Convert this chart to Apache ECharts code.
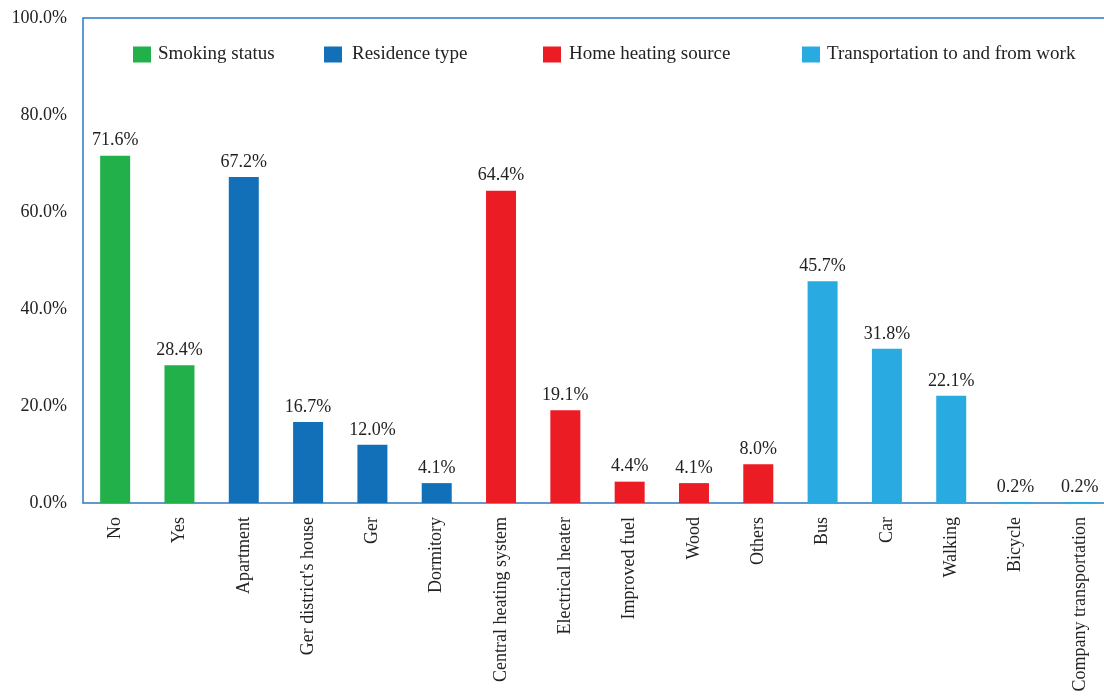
<!DOCTYPE html>
<html>
<head>
<meta charset="utf-8">
<script src="https://cdn.jsdelivr.net/npm/echarts@6/dist/echarts.min.js"></script>
<style>
  html, body { margin: 0; padding: 0; background: #fff; overflow: hidden; }
  /* the frame continues past the right edge of the window */
  #chart { width: 1130px; height: 696px; }
</style>
</head>
<body>
<div id="chart"></div>
<script>
// Categories along the x axis, grouped by survey question
const categories = [
  'No', 'Yes',
  'Apartment', "Ger district's house", 'Ger', 'Dormitory',
  'Central heating system', 'Electrical heater', 'Improved fuel', 'Wood', 'Others',
  'Bus', 'Car', 'Walking', 'Bicycle', 'Company transportation'
];

// Group names and the categories each one covers
const groupNames = ['Smoking status', 'Residence type', 'Home heating source', 'Transportation to and from work'];
const smokingCats = ['No', 'Yes'];
const residenceCats = ['Apartment', "Ger district's house", 'Ger', 'Dormitory'];
const heatingCats = ['Central heating system', 'Electrical heater', 'Improved fuel', 'Wood', 'Others'];
const transportCats = ['Bus', 'Car', 'Walking', 'Bicycle', 'Company transportation'];

// Percentages for each group
const smokingValues = [71.6, 28.4];
const residenceValues = [67.2, 16.7, 12.0, 4.1];
const heatingValues = [64.4, 19.1, 4.4, 4.1, 8.0];
const transportValues = [45.7, 31.8, 22.1, 0.2, 0.2];

// Y-axis ticks
const yTicks = [0, 20, 40, 60, 80, 100];

const groupColors = ['#22b04b', '#1170b8', '#ec1c24', '#29abe2'];
const FONT = "'Liberation Serif', 'Times New Roman', serif";
const FS = 18;

function spread(cats, vals) {
  return categories.map(c => {
    const i = cats.indexOf(c);
    return i >= 0 ? vals[i] : '-';
  });
}

const groups = [
  [smokingCats, smokingValues],
  [residenceCats, residenceValues],
  [heatingCats, heatingValues],
  [transportCats, transportValues]
];

const series = groups.map((g, k) => ({
  name: groupNames[k],
  type: 'bar',
  stack: 'all',
  barWidth: 30,
  itemStyle: { color: groupColors[k] },
  label: {
    show: true,
    position: 'top',
    distance: 6,
    color: '#222',
    fontFamily: FONT,
    fontSize: FS,
    formatter: p => p.value.toFixed(1) + '%'
  },
  data: spread(g[0], g[1])
}));

const legendLefts = [133, 324, 543, 802];
const legendTextGaps = [2, 5, 3, 2];
const legends = groupNames.map((n, k) => ({
  data: [n],
  left: legendLefts[k],
  top: 45,
  padding: 0,
  itemWidth: 18,
  itemHeight: 16,
  itemGap: 8,
  icon: 'rect',
  textStyle: {
    fontFamily: FONT, fontSize: 19, color: '#222',
    padding: [0, 0, 0, legendTextGaps[k]]
  },
  selectedMode: false
}));

const chart = echarts.init(document.getElementById('chart'));
chart.setOption({
  animation: false,
  backgroundColor: '#fff',
  legend: legends,
  grid: {
    left: 83,
    top: 18,
    width: 1029,
    height: 485,
    show: true,
    borderColor: '#2a78c2',
    borderWidth: 1.5,
    containLabel: false
  },
  xAxis: {
    type: 'category',
    data: categories,
    axisLine: { show: false },
    axisTick: { show: false },
    axisLabel: {
      rotate: 90,
      interval: 0,
      margin: 14,
      color: '#222',
      fontFamily: FONT,
      fontSize: FS
    }
  },
  yAxis: {
    type: 'value',
    min: yTicks[0],
    max: yTicks[yTicks.length - 1],
    interval: yTicks[1] - yTicks[0],
    axisLine: { show: false },
    axisTick: { show: false },
    splitLine: { show: false },
    axisLabel: {
      margin: 16,
      color: '#222',
      fontFamily: FONT,
      fontSize: FS,
      formatter: v => v.toFixed(1) + '%'
    }
  },
  series: series
});
</script>
</body>
</html>
